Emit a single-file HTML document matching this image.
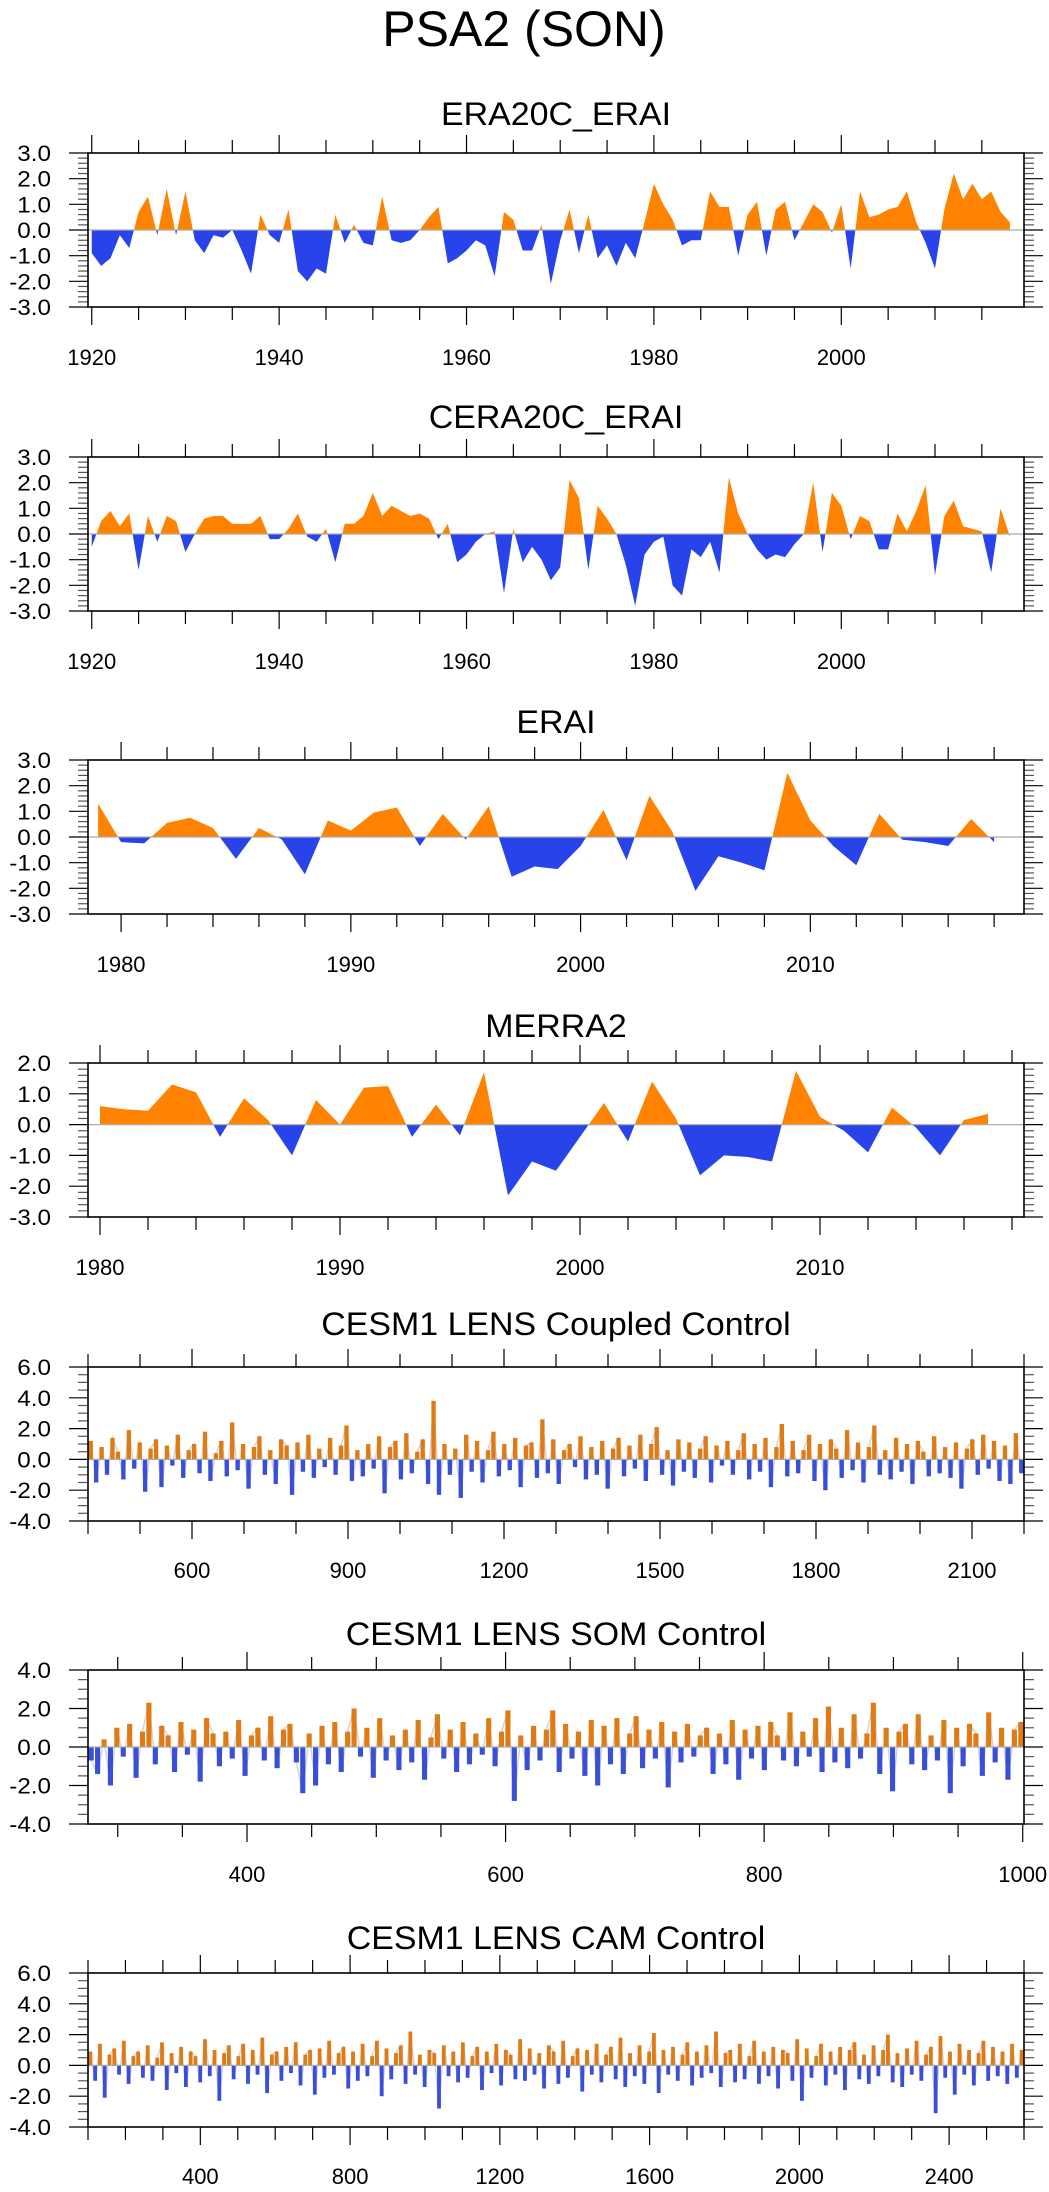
<!DOCTYPE html>
<html><head><meta charset="utf-8"><style>
html,body{margin:0;padding:0;background:#fff}
svg{display:block}
text{font-family:"Liberation Sans",sans-serif;fill:#000}
</style></head><body>
<svg id="fig" width="1049" height="2192" viewBox="0 0 1049 2192" xmlns="http://www.w3.org/2000/svg">
<text x="524" y="46" font-size="50" text-anchor="middle">PSA2 (SON)</text>
</svg>
<script>
// ---- data ----
const era20cYears0 = 1920;
const era20cValues = [-0.9,-1.4,-1.1,-0.2,-0.7,0.7,1.3,-0.2,1.6,-0.2,1.5,-0.4,-0.9,-0.2,-0.3,0.0,-0.8,-1.7,0.6,-0.2,-0.5,0.8,-1.6,-2.0,-1.5,-1.7,0.6,-0.5,0.2,-0.5,-0.6,1.3,-0.4,-0.5,-0.4,0.0,0.5,0.9,-1.3,-1.1,-0.8,-0.4,-0.6,-1.8,0.7,0.4,-0.8,-0.8,0.2,-2.1,-0.4,0.8,-0.9,0.6,-1.1,-0.6,-1.4,-0.5,-1.1,0.3,1.8,1.0,0.4,-0.6,-0.4,-0.4,1.5,0.9,0.9,-1.0,0.6,1.1,-1.0,0.8,1.1,-0.4,0.3,1.0,0.7,-0.1,1.0,-1.5,1.5,0.5,0.6,0.8,0.9,1.5,0.3,-0.5,-1.5,0.8,2.2,1.2,1.8,1.2,1.5,0.7,0.3];
const cera20cYears0 = 1920;
const cera20cValues = [-0.5,0.5,0.9,0.3,0.8,-1.4,0.7,-0.3,0.7,0.5,-0.7,0.0,0.6,0.7,0.7,0.4,0.4,0.4,0.7,-0.2,-0.2,0.2,0.8,-0.1,-0.3,0.2,-1.1,0.4,0.4,0.7,1.6,0.7,1.1,0.9,0.7,0.8,0.6,-0.2,0.4,-1.1,-0.8,-0.3,0.0,0.1,-2.3,0.2,-1.1,-0.5,-1.0,-1.8,-1.3,2.1,1.4,-1.4,1.1,0.6,0.0,-1.2,-2.8,-0.8,-0.3,-0.1,-2.0,-2.4,-0.6,-0.9,-0.3,-1.5,2.2,0.8,0.0,-0.6,-1.0,-0.8,-0.9,-0.4,0.0,2.0,-0.7,1.6,1.1,-0.2,0.7,0.5,-0.6,-0.6,0.8,0.1,0.9,1.9,-1.6,0.7,1.3,0.3,0.2,0.1,-1.5,1.0,-0.1];
const eraiYears0 = 1979;
const eraiValues = [1.3,-0.2,-0.25,0.55,0.75,0.35,-0.85,0.35,-0.1,-1.45,0.65,0.25,0.95,1.15,-0.35,0.9,-0.1,1.2,-1.55,-1.15,-1.25,-0.35,1.05,-0.9,1.6,0.2,-2.1,-0.75,-1.0,-1.3,2.5,0.65,-0.35,-1.1,0.9,-0.1,-0.2,-0.35,0.7,-0.2];
const merraYears0 = 1980;
const merraValues = [0.6,0.5,0.45,1.3,1.05,-0.4,0.85,0.15,-1.0,0.8,0.0,1.2,1.25,-0.4,0.65,-0.35,1.7,-2.3,-1.2,-1.5,-0.4,0.7,-0.55,1.4,0.2,-1.65,-1.0,-1.05,-1.2,1.75,0.25,-0.2,-0.9,0.55,-0.1,-1.0,0.15,0.35];
const coupledValues = [1.2,-1.5,0.8,-1.0,1.4,0.5,-1.3,1.9,-0.6,1.1,-2.1,0.7,1.3,-1.8,0.9,-0.4,1.6,-1.2,0.6,1.0,-0.9,1.8,-1.4,0.4,1.2,-1.1,2.4,-0.7,1.0,-1.9,0.8,1.5,-1.0,0.6,-1.6,1.3,0.9,-2.3,1.1,-0.8,1.6,-1.2,0.7,-0.5,1.4,-1.0,0.9,2.2,-1.4,0.6,-1.1,1.0,-0.6,1.5,-2.2,0.8,1.2,-1.3,1.7,-0.9,0.5,1.3,-1.6,3.8,-2.3,1.0,-1.0,0.7,-2.5,1.6,-0.8,1.2,-1.5,0.6,1.8,-1.1,1.0,-0.7,1.4,-1.8,0.9,1.1,-1.2,2.6,-0.9,1.3,-1.6,0.6,1.0,-0.5,1.5,-1.3,0.8,-1.0,1.2,-1.9,0.7,1.4,-1.1,0.9,-0.6,1.6,-1.4,1.0,2.1,-1.0,0.6,-1.7,1.3,-0.8,1.1,-1.2,0.7,1.5,-1.5,0.9,-0.4,1.2,-1.0,0.6,1.7,-1.3,1.0,-0.8,1.4,-1.8,0.8,2.3,-1.1,1.2,-0.9,0.6,1.6,-1.4,1.0,-2.0,1.3,0.7,-1.2,1.9,-0.7,1.1,-1.5,0.8,2.2,-1.0,0.6,-1.3,1.4,-0.8,1.0,-1.6,1.2,0.5,-1.1,1.5,-0.9,0.8,-1.2,1.1,-1.9,0.7,1.3,-1.0,1.6,-0.6,1.2,-1.4,0.9,-1.6,1.7,-0.9];
const somValues = [-0.7,-1.4,0.4,-2.0,1.0,-0.5,1.2,-1.6,0.8,2.3,-0.9,1.1,0.6,-1.3,1.3,-0.4,0.9,-1.8,1.5,0.7,-1.0,0.8,-0.6,1.4,-1.5,0.6,1.0,-0.7,1.6,-1.1,0.9,1.2,-0.8,-2.4,0.7,-2.0,1.1,-0.9,1.3,-1.3,0.8,2.0,-0.5,1.0,-1.6,1.5,-0.7,0.6,-1.2,0.9,-0.8,1.4,-1.7,0.5,1.7,-0.6,0.9,-1.3,1.3,-0.9,0.7,-0.4,1.5,-1.0,0.8,1.9,-2.8,0.6,-1.2,1.1,-0.7,0.9,1.9,-1.3,1.2,-0.6,0.8,-1.5,1.4,-2.0,1.1,-0.9,1.5,-1.4,0.7,1.6,-1.1,0.9,-0.6,1.3,-2.1,0.8,-0.8,1.2,-0.5,0.6,1.0,-1.4,0.7,-0.9,1.4,-1.7,0.9,-0.6,1.1,-1.2,1.3,0.6,-0.7,1.8,-1.0,0.8,-0.5,1.5,-1.3,2.1,-0.8,1.0,-1.1,1.7,-0.6,0.7,2.3,-1.4,1.0,-2.3,0.8,1.2,-0.9,1.7,-1.2,0.6,-0.7,1.4,-2.4,1.0,-1.0,1.2,0.7,-1.5,1.8,-0.8,1.0,-1.7,0.9,1.3];
const camValues = [0.9,-1.0,1.4,-2.1,0.7,1.1,-0.6,1.6,-1.2,0.6,0.9,-0.8,1.3,-1.0,0.5,1.5,-1.6,0.8,-0.5,1.2,-1.4,0.9,0.6,-1.1,1.7,-0.7,1.0,-2.3,0.8,1.3,-0.9,0.6,1.4,-1.2,1.0,-0.6,1.8,-1.8,0.7,0.9,-1.0,1.2,-0.5,1.5,-1.3,0.7,1.0,-1.9,1.1,-0.8,1.6,-0.6,0.8,1.2,-1.5,0.9,-1.0,1.4,-0.7,0.6,1.6,-2.0,1.1,-0.9,0.8,1.3,-1.2,2.2,-0.6,0.7,-1.4,1.0,0.8,-2.8,1.3,-0.7,0.9,-1.1,1.5,-0.8,0.6,1.2,-1.6,0.9,-0.5,1.4,-1.3,1.0,0.7,-0.9,1.7,-1.0,1.1,-0.6,0.8,-1.5,1.3,0.9,-1.2,1.6,-0.8,0.6,1.1,-1.7,1.0,-0.6,1.4,-1.1,0.7,1.2,-0.9,1.8,-1.4,0.8,-0.7,1.3,-1.2,0.9,2.1,-1.8,1.0,-0.6,1.2,-1.0,0.7,1.5,-1.3,0.9,-0.8,1.3,-0.5,2.2,-1.4,0.8,1.0,-1.1,1.4,-0.9,0.6,1.6,-1.2,0.9,-0.7,1.2,-1.5,1.0,0.8,-1.0,1.7,-2.3,1.1,-0.8,0.6,1.4,-1.3,0.9,-0.6,1.2,-1.6,1.0,1.5,-0.9,0.7,-1.2,1.3,-0.7,1.0,2.0,-1.1,0.8,-1.4,1.1,-0.6,1.6,-1.0,0.7,1.2,-3.1,1.9,-0.8,0.9,-1.9,1.4,-0.6,1.0,-1.3,0.8,1.6,-1.0,1.2,-0.7,0.9,-1.2,1.4,-0.8,1.0];

const orange = '#ff8300', blue = '#2843ea';
const barOrange = '#e07a14', barBlue = '#3a4fd8';
const svg = document.getElementById('fig');
const NS = 'http://www.w3.org/2000/svg';
function mk(tag, attrs, parent){const e=document.createElementNS(NS,tag);for(const k in attrs)e.setAttribute(k,attrs[k]);(parent||svg).appendChild(e);return e;}
function stretch(t,k){const w=t.getComputedTextLength();if(w>0){t.setAttribute('textLength',(w*k).toFixed(1));t.setAttribute('lengthAdjust','spacingAndGlyphs');}}

let clipId = 0;
function panel(p){
  const g = mk('g',{});
  
  
  const L=88,R=1024,T=p.top,B=p.top+154;
  const xs = v => L + (v - p.x0)/(p.x1 - p.x0)*(R-L);
  const ys = v => T + (p.y1 - v)/(p.y1 - p.y0)*(B-T);
  const t = mk('text',{x:556,y:p.titleY+12,'font-size':32,'text-anchor':'middle'},g);
  t.textContent = p.title;
  
  
  stretch(t,1.06);
  for(let v=Math.ceil(p.x0/p.xminor)*p.xminor; v<=p.x1+1e-9; v+=p.xminor){
    const x=xs(v); const major = Math.abs(v/p.xmajor-Math.round(v/p.xmajor))<1e-6;
    const len = major?18:13;
    mk('line',{x1:x,x2:x,y1:T,y2:T-len,stroke:'#000','stroke-width':1.2},g);
    mk('line',{x1:x,x2:x,y1:B,y2:B+len,stroke:'#000','stroke-width':1.2},g);
    if(major){
      const lt = mk('text',{x:x,y:p.labelY+8,'font-size':22,'text-anchor':'middle'},g);
      lt.textContent = v;
      
      
    }
  }
  for(let v=p.y0; v<=p.y1+1e-9; v+=p.yminor){
    const y=ys(v); const major=Math.abs(v/p.ymajor-Math.round(v/p.ymajor))<1e-6;
    const len=major?19:10;
    mk('line',{x1:L,x2:L-len,y1:y,y2:y,stroke:major?'#000':'#555','stroke-width':1.2},g);
    mk('line',{x1:R,x2:R+len,y1:y,y2:y,stroke:major?'#000':'#555','stroke-width':1.2},g);
    if(major){
      const yt = mk('text',{x:51,y:y+8,'font-size':22,'text-anchor':'end'},g);
      yt.textContent = v.toFixed(1);
      
      
      stretch(yt,1.1);
    }
  }
  const z = ys(0);
  if(p.years0!==undefined){
    let d='M'+xs(p.years0)+','+z;
    p.values.forEach((v,i)=>{d+=' L'+xs(p.years0+i)+','+ys(v);});
    d+=' L'+xs(p.years0+p.values.length-1)+','+z+' Z';
    const a=++clipId, b=++clipId;
    const defs=mk('defs',{},g);
    const c1=mk('clipPath',{id:'c'+a},defs); mk('rect',{x:L,y:T,width:R-L,height:z-T},c1);
    const c2=mk('clipPath',{id:'c'+b},defs); mk('rect',{x:L,y:z,width:R-L,height:B-z},c2);
    const pa=mk('path',{d:d,fill:orange,'clip-path':'url(#c'+a+')'},g);
    
    
    const pb=mk('path',{d:d,fill:blue,'clip-path':'url(#c'+b+')'},g);
    
    
  } else {
    const n=p.values.length, step=(p.x1-p.x0)/n;
    const pxStep=(R-L)/n;
    let pts='';
    p.values.forEach((v,i)=>{pts+=xs(p.x0+step*(i+0.5))+','+ys(v)+' ';});
    const gl=mk('polyline',{points:pts,fill:'none',stroke:'#d4d4d4','stroke-width':1.5},g);
    
    
    p.values.forEach((v,i)=>{
      const x=xs(p.x0+step*(i+0.5)); const y=ys(v);
      const r=mk('rect',{x:x-pxStep*0.4,y:Math.min(y,z),width:Math.max(1.5,pxStep*0.8),height:Math.abs(y-z),fill:v>=0?barOrange:barBlue},g);
      
      
    });
  }
  mk('line',{x1:L,x2:R,y1:z,y2:z,stroke:'#aaa','stroke-width':1.2},g);
  const fr=mk('rect',{x:L,y:T,width:R-L,height:B-T,fill:'none',stroke:'#000','stroke-width':1.6},g);
  
  
}

panel({name:'era20c-erai-panel',title:'ERA20C_ERAI',titleY:113,top:153,labelY:357,x0:1919.6,x1:2019.5,xmajor:20,xminor:5,y0:-3,y1:3,ymajor:1,yminor:0.2,years0:era20cYears0,values:era20cValues});
panel({name:'cera20c-erai-panel',title:'CERA20C_ERAI',titleY:416,top:457,labelY:661,x0:1919.6,x1:2019.5,xmajor:20,xminor:5,y0:-3,y1:3,ymajor:1,yminor:0.2,years0:cera20cYears0,values:cera20cValues});
panel({name:'erai-panel',title:'ERAI',titleY:721,top:760,labelY:964,x0:1978.56,x1:2019.3,xmajor:10,xminor:2,y0:-3,y1:3,ymajor:1,yminor:0.2,years0:eraiYears0,values:eraiValues});
panel({name:'merra2-panel',title:'MERRA2',titleY:1025,top:1063,labelY:1267,x0:1979.5,x1:2018.5,xmajor:10,xminor:2,y0:-3,y1:2,ymajor:1,yminor:0.2,years0:merraYears0,values:merraValues});
panel({name:'coupled-control-panel',title:'CESM1 LENS Coupled Control',titleY:1323,top:1367,labelY:1570,x0:400,x1:2200,xmajor:300,xminor:100,y0:-4,y1:6,ymajor:2,yminor:0.5,values:coupledValues});
panel({name:'som-control-panel',title:'CESM1 LENS SOM Control',titleY:1633,top:1670,labelY:1874,x0:277,x1:1001,xmajor:200,xminor:50,y0:-4,y1:4,ymajor:2,yminor:0.5,values:somValues});
panel({name:'cam-control-panel',title:'CESM1 LENS CAM Control',titleY:1937,top:1973,labelY:2176,x0:100,x1:2600,xmajor:400,xminor:100,y0:-4,y1:6,ymajor:2,yminor:0.5,values:camValues});
</script>
</body></html>
